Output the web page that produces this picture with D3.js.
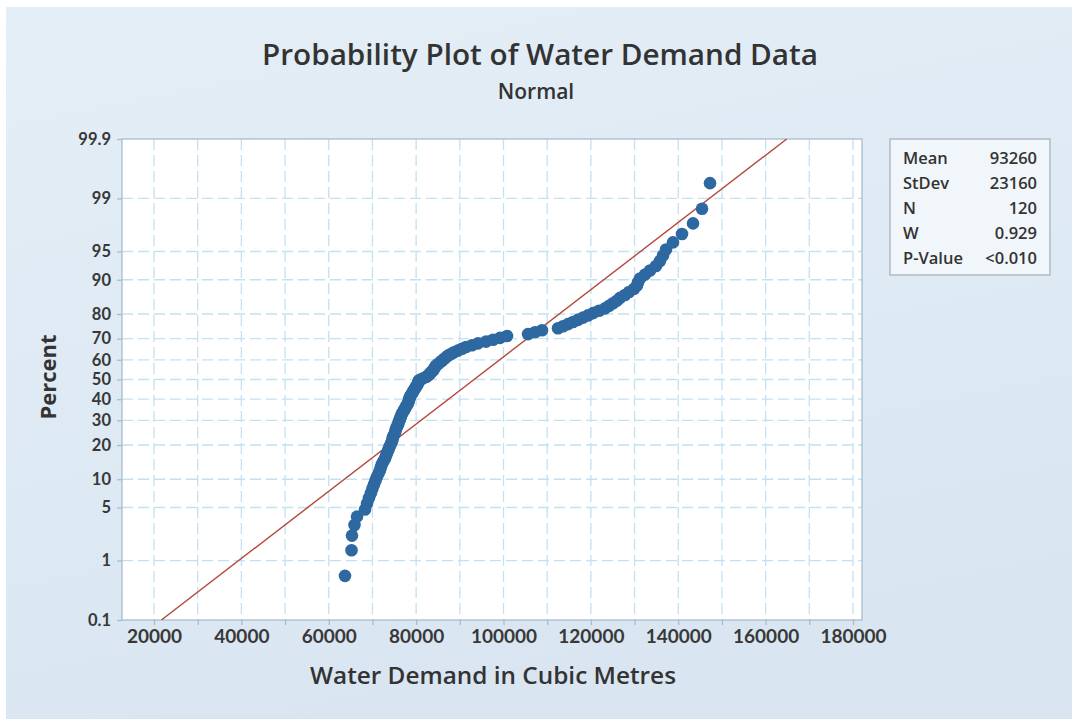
<!DOCTYPE html>
<html>
<head>
<meta charset="utf-8">
<script src="https://cdn.jsdelivr.net/npm/d3@7"></script>
<style>
  html, body { margin: 0; padding: 0; background: #ffffff; }
  svg { display: block; font-family: "Open Sans", "Noto Sans", sans-serif; }
</style>
</head>
<body>
<svg id="chart" width="1072" height="719"></svg>
<script>
// Water demand observations (cubic metres), sorted ascending
const demand = [
  63720, 65210, 65320, 65890, 66470, 68300, 68760, 69210, 69670, 70010,
  70360, 70700, 71040, 71390, 71730, 71960, 72190, 72530, 72880, 73100,
  73330, 73560, 73790, 74020, 74250, 74480, 74590, 74710, 74940, 75160,
  75280, 75390, 75620, 75850, 75970, 76080, 76310, 76420, 76540, 76770,
  77000, 77230, 77450, 77680, 77910, 78140, 78260, 78370, 78480, 78600,
  78830, 79060, 79290, 79510, 79740, 79970, 80200, 80430, 80540, 80660,
  81350, 82260, 82720, 83180, 83410, 83860, 84090, 84320, 84550, 85010,
  85470, 85920, 86380, 86840, 87300, 87980, 88670, 89590, 90500, 91420,
  92790, 94160, 96000, 97600, 99200, 100800, 105610, 107210, 108810, 112480,
  113620, 114760, 115910, 117050, 118200, 119340, 120490, 121860, 123230, 124150,
  125070, 125980, 126670, 127810, 128730, 129870, 130560, 130790, 131250, 132390,
  133530, 134910, 135820, 136510, 137200, 138800, 140860, 143380, 145440, 147270
];

// Fitted normal parameters
const fitMean = 93260;
const fitSd = 23160;

// Axis ticks
const percentTicks = [0.1, 1, 5, 10, 20, 30, 40, 50, 60, 70, 80, 90, 95, 99, 99.9];
const percentLabels = ["0.1", "1", "5", "10", "20", "30", "40", "50", "60", "70", "80", "90", "95", "99", "99.9"];
const demandTicks = [20000, 40000, 60000, 80000, 100000, 120000, 140000, 160000, 180000];
const demandGrid = [20000, 30000, 40000, 50000, 60000, 70000, 80000, 90000, 100000,
                    110000, 120000, 130000, 140000, 150000, 160000, 170000, 180000];

// Summary table
const statLabels = ["Mean", "StDev", "N", "W", "P-Value"];
const statValues = ["93260", "23160", "120", "0.929", "<0.010"];

// Inverse standard normal CDF (Acklam's rational approximation)
function qnorm(p) {
  const a = [-3.969683028665376e+01, 2.209460984245205e+02, -2.759285104469687e+02,
             1.383577518672690e+02, -3.066479806614716e+01, 2.506628277459239e+00];
  const b = [-5.447609879822406e+01, 1.615858368580409e+02, -1.556989798598866e+02,
             6.680131188771972e+01, -1.328068155288572e+01];
  const c = [-7.784894002430293e-03, -3.223964580411365e-01, -2.400758277161838e+00,
             -2.549732539343734e+00, 4.374664141464968e+00, 2.938163982698783e+00];
  const d = [7.784695709041462e-03, 3.224671290700398e-01, 2.445134137142996e+00,
             3.754408661907416e+00];
  const pl = 0.02425, ph = 1 - pl;
  let q, r;
  if (p < pl) {
    q = Math.sqrt(-2 * Math.log(p));
    return (((((c[0]*q + c[1])*q + c[2])*q + c[3])*q + c[4])*q + c[5]) /
           ((((d[0]*q + d[1])*q + d[2])*q + d[3])*q + 1);
  }
  if (p > ph) {
    q = Math.sqrt(-2 * Math.log(1 - p));
    return -(((((c[0]*q + c[1])*q + c[2])*q + c[3])*q + c[4])*q + c[5]) /
            ((((d[0]*q + d[1])*q + d[2])*q + d[3])*q + 1);
  }
  q = p - 0.5; r = q * q;
  return (((((a[0]*r + a[1])*r + a[2])*r + a[3])*r + a[4])*r + a[5]) * q /
         (((((b[0]*r + b[1])*r + b[2])*r + b[3])*r + b[4])*r + 1);
}

const W = 1072, H = 719;
const plot = { left: 122, right: 862, top: 139, bottom: 620 };

const svg = d3.select("#chart");

// Panel background
const defs = svg.append("defs");
const grad = defs.append("linearGradient").attr("id", "panelGrad")
  .attr("x1", 0).attr("y1", 0).attr("x2", 0.3).attr("y2", 1);
grad.append("stop").attr("offset", "0%").attr("stop-color", "#e4eef7");
grad.append("stop").attr("offset", "100%").attr("stop-color", "#d9e6f1");
defs.append("clipPath").attr("id", "plotClip").append("rect")
  .attr("x", plot.left).attr("y", plot.top)
  .attr("width", plot.right - plot.left).attr("height", plot.bottom - plot.top);

svg.append("rect").attr("width", W).attr("height", H).attr("fill", "#ffffff");
svg.append("rect").attr("x", 6).attr("y", 7).attr("width", W - 6).attr("height", H - 7)
  .attr("fill", "url(#panelGrad)");

// Scales: x linear in demand, y in standard normal quantiles
const x = d3.scaleLinear().domain([20000, 180000]).range([154, 853]);
const y = d3.scaleLinear().domain([qnorm(0.001), qnorm(0.999)]).range([plot.bottom, plot.top]);

// Plot area
svg.append("rect")
  .attr("x", plot.left).attr("y", plot.top)
  .attr("width", plot.right - plot.left).attr("height", plot.bottom - plot.top)
  .attr("fill", "#ffffff");

// Grid lines
const grid = svg.append("g").attr("clip-path", "url(#plotClip)")
  .attr("stroke", "#c2e1f2").attr("stroke-width", 1.3).attr("stroke-dasharray", "11,5");
grid.selectAll("line.v").data(demandGrid).join("line").attr("class", "v")
  .attr("x1", d => x(d)).attr("x2", d => x(d))
  .attr("y1", plot.top).attr("y2", plot.bottom);
grid.selectAll("line.h").data(percentTicks.slice(1, -1)).join("line").attr("class", "h")
  .attr("x1", plot.left).attr("x2", plot.right)
  .attr("y1", d => y(qnorm(d / 100))).attr("y2", d => y(qnorm(d / 100)));

// Frame
svg.append("rect")
  .attr("x", plot.left).attr("y", plot.top)
  .attr("width", plot.right - plot.left).attr("height", plot.bottom - plot.top)
  .attr("fill", "none").attr("stroke", "#a9bccc").attr("stroke-width", 1.3);

// Axes
const axisColor = "#a9bccc";
const textColor = "#383838";

const yAxis = d3.axisLeft(y)
  .tickValues(percentTicks.map(p => qnorm(p / 100)))
  .tickFormat((d, i) => percentLabels[i])
  .tickSize(5).tickPadding(6);
const gy = svg.append("g").attr("transform", `translate(${plot.left},0)`).call(yAxis);

const xAxis = d3.axisBottom(x)
  .tickValues(demandGrid)
  .tickFormat(d => demandTicks.includes(d) ? String(d) : "")
  .tickSize(5).tickPadding(5);
const gx = svg.append("g").attr("transform", `translate(0,${plot.bottom})`).call(xAxis);

[gx, gy].forEach(g => {
  g.select(".domain").remove();
  g.selectAll(".tick line").attr("stroke", axisColor).attr("stroke-width", 1.3);
  g.selectAll(".tick text")
    .attr("fill", textColor)
    .style("font-weight", 700)
    .style("font-family", "Lato, sans-serif");
});
gy.selectAll(".tick text").style("font-size", "16.5px");
gx.selectAll(".tick text").style("font-size", "19px");

// Fitted line
const zLo = qnorm(0.001), zHi = qnorm(0.999);
svg.append("line")
  .attr("clip-path", "url(#plotClip)")
  .attr("x1", x(fitMean + zLo * fitSd)).attr("y1", y(zLo))
  .attr("x2", x(fitMean + zHi * fitSd)).attr("y2", y(zHi))
  .attr("stroke", "#b5473c").attr("stroke-width", 1.4);

// Data points at median-rank plotting positions
const n = demand.length;
svg.append("g").selectAll("circle").data(demand).join("circle")
  .attr("cx", d => x(d))
  .attr("cy", (d, i) => y(qnorm((i + 1 - 0.3) / (n + 0.4))))
  .attr("r", 6.3)
  .attr("fill", "#2e68a1");

// Titles
svg.append("text").attr("x", 540).attr("y", 65).attr("text-anchor", "middle")
  .attr("fill", "#333333").style("font-size", "28px").style("font-weight", 600)
  .attr("textLength", 556).attr("lengthAdjust", "spacingAndGlyphs")
  .text("Probability Plot of Water Demand Data");
svg.append("text").attr("x", 536).attr("y", 99).attr("text-anchor", "middle")
  .attr("fill", "#333333").style("font-size", "21px").style("font-weight", 600)
  .text("Normal");
svg.append("text").attr("x", 493).attr("y", 684).attr("text-anchor", "middle")
  .attr("fill", "#333333").style("font-size", "23px").style("font-weight", 600)
  .attr("textLength", 366).attr("lengthAdjust", "spacingAndGlyphs")
  .text("Water Demand in Cubic Metres");
svg.append("text").attr("transform", "translate(56,377) rotate(-90)")
  .attr("text-anchor", "middle")
  .attr("fill", "#333333").style("font-size", "22px").style("font-weight", 700)
  .text("Percent");

// Summary box
const box = svg.append("g");
box.append("rect").attr("x", 890).attr("y", 139).attr("width", 160).attr("height", 136)
  .attr("fill", "#f1f6fa").attr("stroke", "#a6b2bd").attr("stroke-width", 1.3);
box.selectAll("text.lab").data(statLabels).join("text").attr("class", "lab")
  .attr("x", 903).attr("y", (d, i) => 164 + i * 25)
  .attr("fill", "#333333").style("font-size", "16.5px").style("font-weight", 600)
  .text(d => d);
box.selectAll("text.val").data(statValues).join("text").attr("class", "val")
  .attr("x", 1037).attr("y", (d, i) => 164 + i * 25).attr("text-anchor", "end")
  .attr("fill", "#333333").style("font-size", "16.5px").style("font-weight", 600)
  .text(d => d);
</script>
</body>
</html>
